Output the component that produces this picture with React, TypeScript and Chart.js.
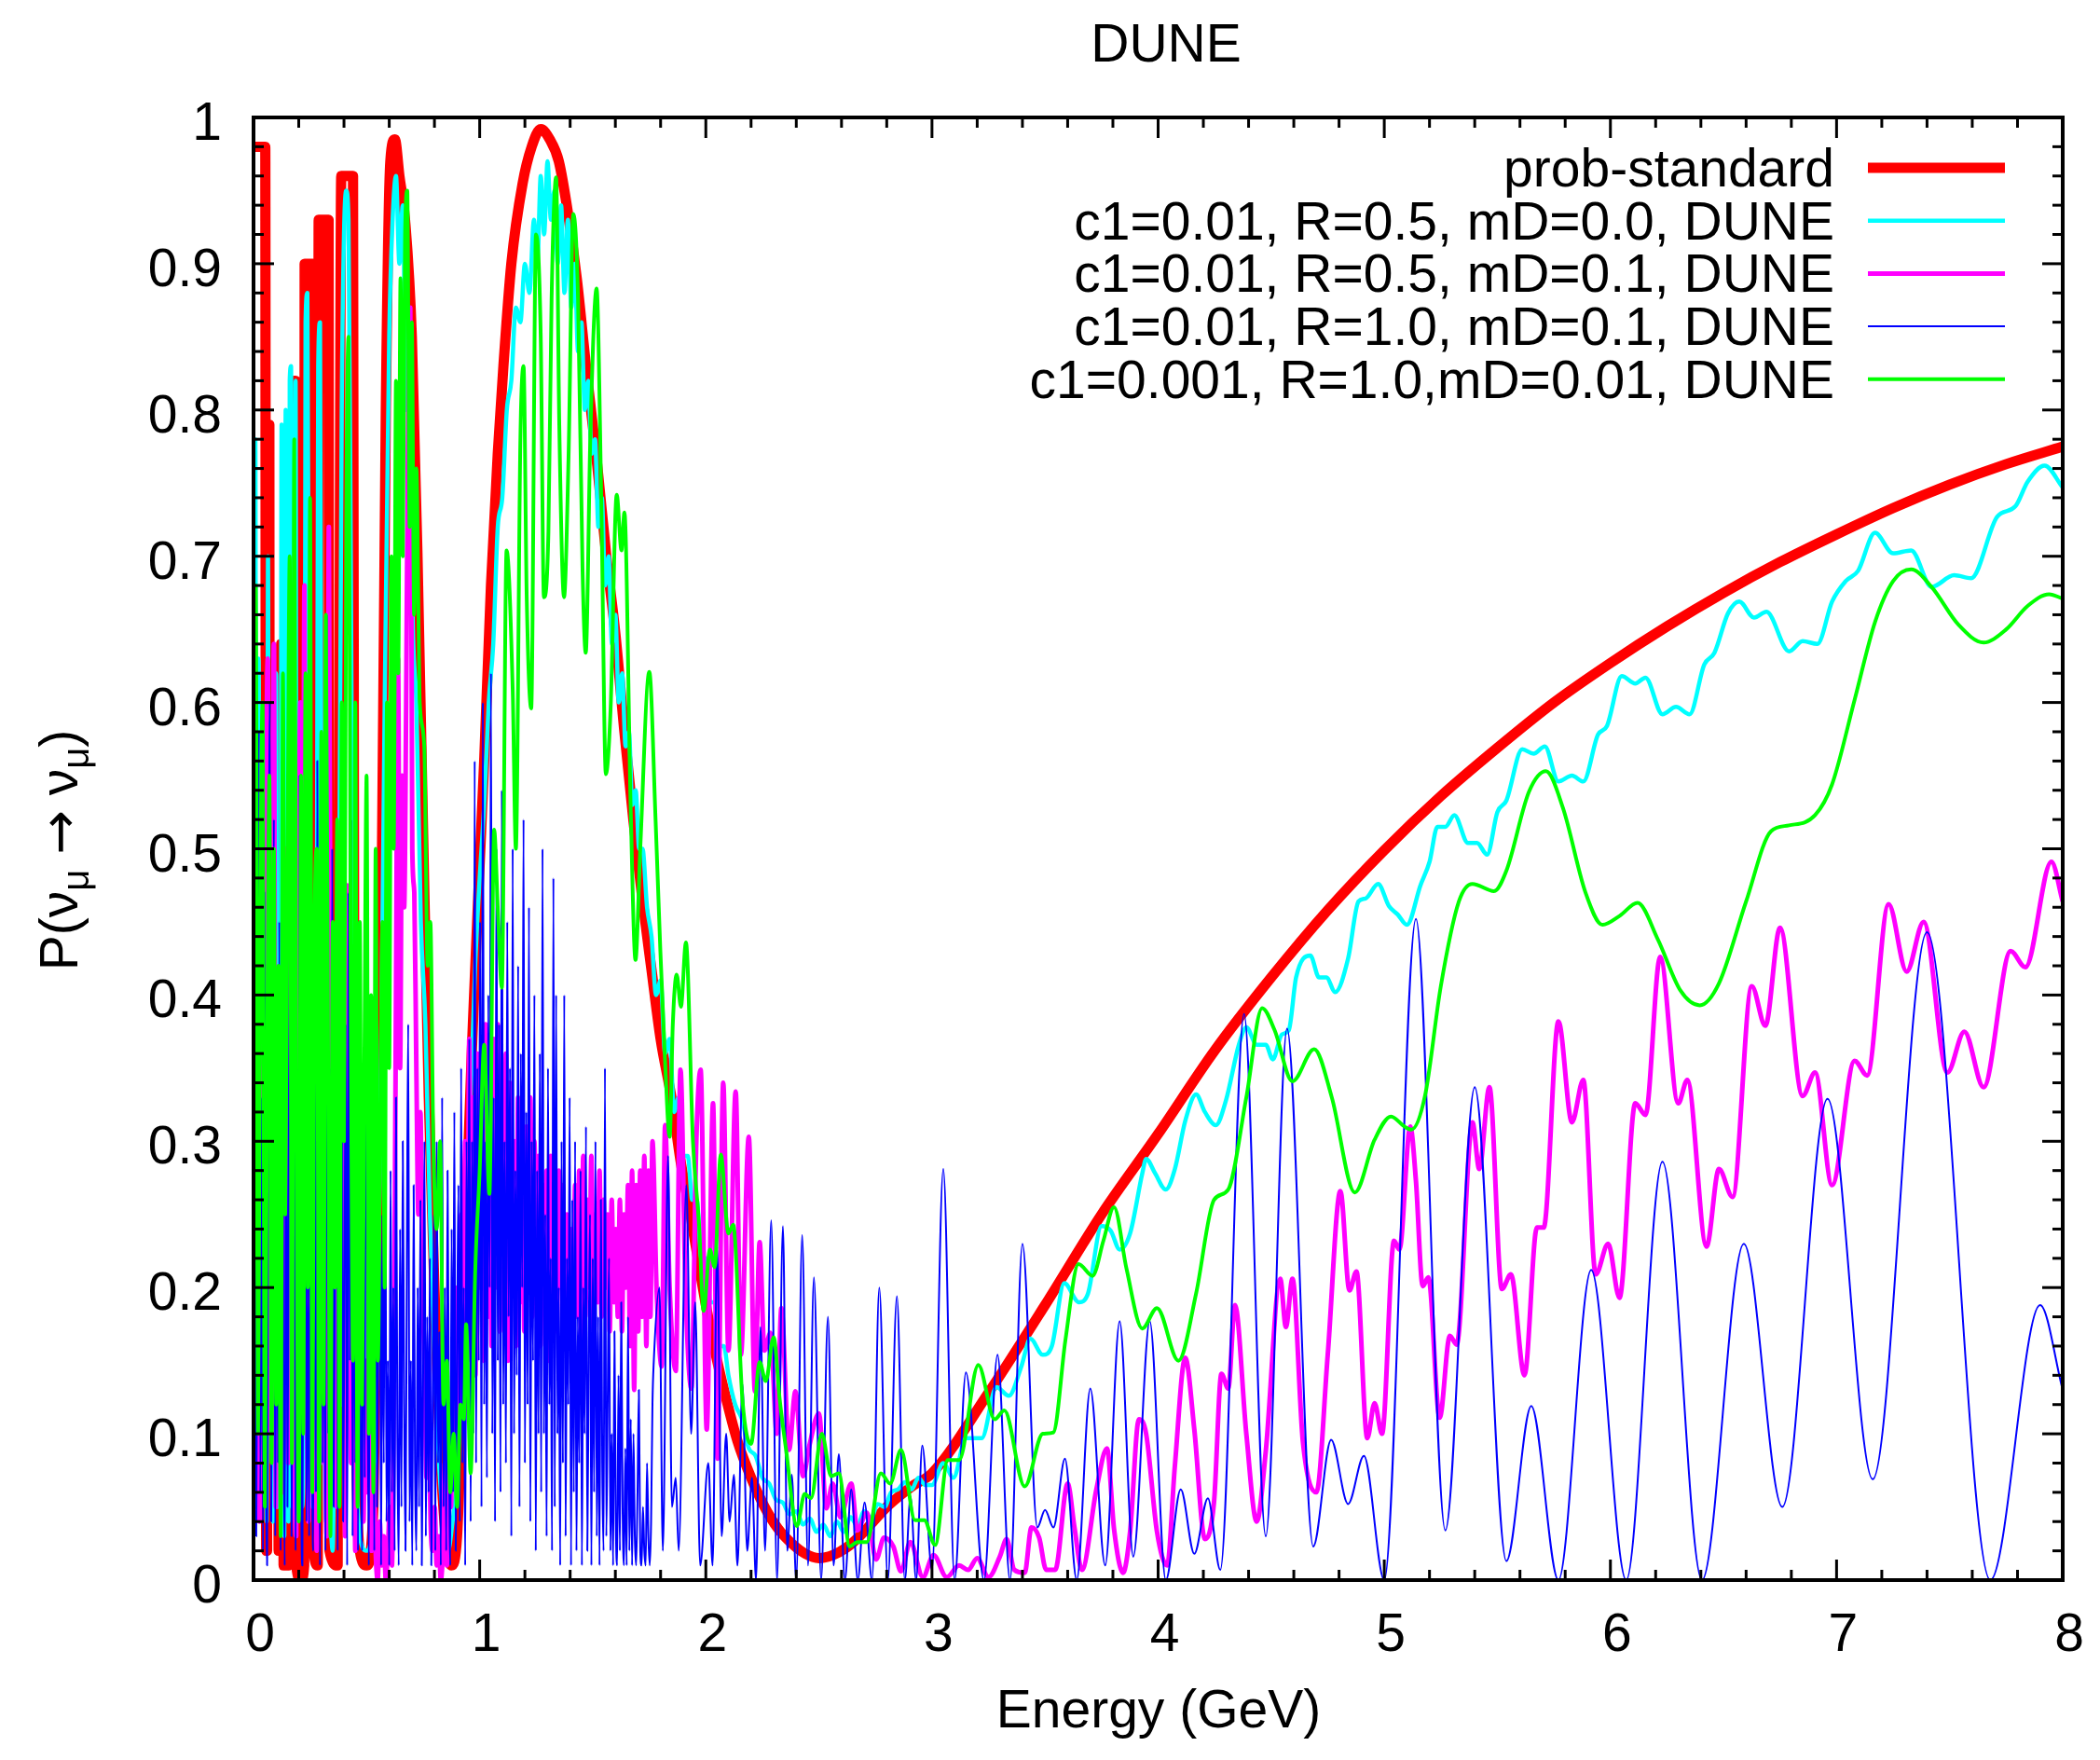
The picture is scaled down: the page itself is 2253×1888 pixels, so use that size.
import { useEffect, useRef } from 'react';
import { Chart, registerables } from 'chart.js';

Chart.register(...registerables);

const FONT = "'Liberation Sans', Arial, Helvetica, sans-serif";

const chartTitle = 'DUNE';
const xAxisTitle = 'Energy (GeV)';
const xTickValues = [0, 1, 2, 3, 4, 5, 6, 7, 8];
const xTickLabels = ['0', '1', '2', '3', '4', '5', '6', '7', '8'];
const yTickValues = [0, 0.1, 0.2, 0.3, 0.4, 0.5, 0.6, 0.7, 0.8, 0.9, 1];
const yTickLabels = ['0', '0.1', '0.2', '0.3', '0.4', '0.5', '0.6', '0.7', '0.8', '0.9', '1'];

const seriesLabels = [
  'prob-standard',
  'c1=0.01, R=0.5, mD=0.0, DUNE',
  'c1=0.01, R=0.5, mD=0.1, DUNE',
  'c1=0.01, R=1.0, mD=0.1, DUNE',
  'c1=0.001, R=1.0,mD=0.01, DUNE',
];
const seriesColors = ['#ff0000', '#00ffff', '#ff00ff', '#0000ff', '#00ff00'];
const seriesWidths = [11, 4.5, 5, 2, 4];

// prob-standard: [E (GeV), P]
const standardPoints: [number, number][] = [
  [0.0, 0.98], [0.052, 0.98], [0.056, 0.02], [0.06, 0.02], [0.062, 0.79], [0.07, 0.79], [0.072, 0.06], [0.094, 0.06],
  [0.096, 0.56], [0.108, 0.56], [0.111, 0.02], [0.12, 0.02], [0.122, 0.64], [0.13, 0.64], [0.133, 0.01], [0.138, 0.01],
  [0.14, 0.745], [0.148, 0.745], [0.15, 0.01], [0.155, 0.01], [0.157, 0.765], [0.164, 0.765], [0.167, 0.02], [0.176, 0.02],
  [0.178, 0.82], [0.186, 0.82], [0.189, 0.01], [0.21, 0.0], [0.224, 0.01], [0.226, 0.9], [0.262, 0.9], [0.266, 0.02],
  [0.284, 0.01], [0.288, 0.93], [0.332, 0.93], [0.336, 0.02], [0.372, 0.01], [0.376, 0.3], [0.388, 0.96], [0.44, 0.96],
  [0.446, 0.3], [0.47, 0.02], [0.5, 0.01], [0.53, 0.05], [0.56, 0.35], [0.585, 0.8], [0.605, 0.97], [0.625, 0.985],
  [0.645, 0.96], [0.67, 0.93], [0.7, 0.85], [0.725, 0.7], [0.75, 0.51], [0.775, 0.33], [0.8, 0.2], [0.825, 0.09],
  [0.85, 0.03], [0.875, 0.01], [0.9, 0.03], [0.92, 0.12], [0.94, 0.25], [0.97, 0.38], [1.0, 0.49], [1.02, 0.56],
  [1.05, 0.68], [1.08, 0.77], [1.105, 0.83], [1.14, 0.9], [1.19, 0.955], [1.23, 0.98], [1.27, 0.992], [1.31, 0.985],
  [1.35, 0.97], [1.39, 0.935], [1.43, 0.889], [1.47, 0.83], [1.52, 0.762], [1.56, 0.7], [1.6, 0.647], [1.64, 0.58],
  [1.68, 0.519], [1.72, 0.465], [1.76, 0.417], [1.8, 0.37], [1.85, 0.328], [1.89, 0.285], [1.93, 0.252], [1.97, 0.215],
  [2.01, 0.18], [2.05, 0.15], [2.09, 0.124], [2.14, 0.095], [2.2, 0.07], [2.26, 0.05], [2.32, 0.035], [2.38, 0.025],
  [2.44, 0.018], [2.5, 0.015], [2.56, 0.017], [2.62, 0.022], [2.68, 0.03], [2.74, 0.04], [2.8, 0.05], [2.86, 0.058],
  [2.92, 0.065], [3.0, 0.073], [3.25, 0.128], [3.5, 0.188], [3.75, 0.25], [4.0, 0.305], [4.25, 0.362], [4.5, 0.412],
  [4.75, 0.458], [5.0, 0.499], [5.25, 0.536], [5.5, 0.569], [5.75, 0.6], [6.0, 0.627], [6.25, 0.652], [6.5, 0.675],
  [6.75, 0.696], [7.0, 0.715], [7.25, 0.733], [7.5, 0.749], [7.75, 0.763], [8.0, 0.775],
];

// c1=0.01, R=0.5, mD=0.0
const cyanPoints: [number, number][] = [
  [0.0, 0.2], [0.008, 0.78], [0.014, 0.05], [0.022, 0.63], [0.03, 0.06], [0.036, 0.32], [0.042, 0.08], [0.05, 0.5],
  [0.058, 0.04], [0.064, 0.7], [0.07, 0.1], [0.078, 0.3], [0.086, 0.04], [0.094, 0.58], [0.1, 0.62], [0.106, 0.05],
  [0.112, 0.44], [0.118, 0.06], [0.124, 0.79], [0.13, 0.62], [0.136, 0.03], [0.142, 0.8], [0.148, 0.6], [0.154, 0.04],
  [0.16, 0.82], [0.166, 0.83], [0.172, 0.05], [0.18, 0.3], [0.186, 0.82], [0.192, 0.04], [0.2, 0.05], [0.208, 0.25],
  [0.214, 0.05], [0.222, 0.1], [0.23, 0.86], [0.238, 0.88], [0.246, 0.55], [0.254, 0.2], [0.262, 0.05], [0.27, 0.06],
  [0.278, 0.3], [0.286, 0.83], [0.294, 0.86], [0.3, 0.5], [0.31, 0.15], [0.32, 0.04], [0.33, 0.08], [0.338, 0.05],
  [0.35, 0.02], [0.36, 0.15], [0.37, 0.3], [0.38, 0.5], [0.39, 0.8], [0.4, 0.92], [0.41, 0.95], [0.42, 0.93],
  [0.43, 0.7], [0.44, 0.4], [0.45, 0.15], [0.47, 0.03], [0.5, 0.02], [0.53, 0.05], [0.56, 0.3], [0.58, 0.6],
  [0.6, 0.85], [0.615, 0.93], [0.63, 0.96], [0.645, 0.9], [0.66, 0.94], [0.675, 0.8], [0.69, 0.82], [0.705, 0.65],
  [0.72, 0.6], [0.74, 0.45], [0.76, 0.38], [0.78, 0.25], [0.8, 0.15], [0.82, 0.08], [0.84, 0.04], [0.86, 0.02],
  [0.88, 0.04], [0.9, 0.07], [0.92, 0.15], [0.94, 0.22], [0.96, 0.33], [0.98, 0.42], [1.0, 0.48], [1.02, 0.53],
  [1.04, 0.6], [1.06, 0.64], [1.08, 0.72], [1.1, 0.74], [1.12, 0.8], [1.14, 0.82], [1.16, 0.87], [1.18, 0.86],
  [1.2, 0.9], [1.22, 0.88], [1.24, 0.93], [1.255, 0.9], [1.27, 0.96], [1.285, 0.92], [1.3, 0.97], [1.315, 0.93],
  [1.33, 0.95], [1.345, 0.9], [1.36, 0.94], [1.375, 0.88], [1.39, 0.93], [1.405, 0.87], [1.42, 0.9], [1.435, 0.84],
  [1.45, 0.86], [1.465, 0.8], [1.48, 0.82], [1.495, 0.77], [1.51, 0.78], [1.525, 0.72], [1.54, 0.74], [1.555, 0.68],
  [1.57, 0.7], [1.585, 0.64], [1.6, 0.66], [1.615, 0.6], [1.63, 0.62], [1.645, 0.57], [1.66, 0.58], [1.675, 0.53],
  [1.69, 0.54], [1.705, 0.5], [1.72, 0.5], [1.74, 0.46], [1.76, 0.44], [1.78, 0.4], [1.8, 0.41], [1.82, 0.36],
  [1.84, 0.37], [1.86, 0.32], [1.88, 0.33], [1.9, 0.29], [1.92, 0.29], [1.94, 0.26], [1.96, 0.26], [1.98, 0.22],
  [2.0, 0.22], [2.02, 0.19], [2.04, 0.19], [2.06, 0.16], [2.08, 0.16], [2.1, 0.14], [2.13, 0.12], [2.16, 0.11],
  [2.19, 0.09], [2.22, 0.085], [2.25, 0.07], [2.28, 0.066], [2.31, 0.055], [2.34, 0.053], [2.37, 0.045], [2.4, 0.047],
  [2.43, 0.038], [2.46, 0.042], [2.49, 0.033], [2.52, 0.038], [2.55, 0.03], [2.58, 0.04], [2.61, 0.033], [2.64, 0.043],
  [2.67, 0.037], [2.7, 0.047], [2.73, 0.042], [2.76, 0.052], [2.79, 0.05], [2.82, 0.06], [2.85, 0.062], [2.88, 0.067],
  [2.91, 0.062], [2.94, 0.07], [2.97, 0.065], [3.0, 0.065], [3.05, 0.08], [3.095, 0.07], [3.15, 0.097], [3.22, 0.097],
  [3.285, 0.132], [3.34, 0.126], [3.395, 0.146], [3.435, 0.165], [3.49, 0.154], [3.53, 0.16], [3.585, 0.203], [3.65, 0.19],
  [3.69, 0.196], [3.75, 0.242], [3.79, 0.239], [3.83, 0.226], [3.876, 0.237], [3.93, 0.278], [3.947, 0.288], [3.987, 0.278],
  [4.034, 0.267], [4.074, 0.281], [4.12, 0.314], [4.168, 0.332], [4.207, 0.32], [4.255, 0.311], [4.3, 0.328], [4.357, 0.366],
  [4.39, 0.378], [4.436, 0.366], [4.476, 0.366], [4.507, 0.356], [4.547, 0.373], [4.578, 0.376], [4.61, 0.412], [4.673, 0.427],
  [4.712, 0.412], [4.744, 0.412], [4.783, 0.402], [4.84, 0.425], [4.886, 0.464], [4.917, 0.466], [4.973, 0.476], [5.02, 0.461],
  [5.06, 0.455], [5.1, 0.448], [5.16, 0.475], [5.2, 0.491], [5.235, 0.515], [5.27, 0.515], [5.31, 0.523], [5.37, 0.504],
  [5.41, 0.504], [5.455, 0.496], [5.5, 0.525], [5.54, 0.533], [5.61, 0.568], [5.66, 0.565], [5.71, 0.57], [5.77, 0.546],
  [5.83, 0.55], [5.88, 0.546], [5.945, 0.578], [5.985, 0.584], [6.05, 0.618], [6.11, 0.613], [6.155, 0.617], [6.23, 0.592],
  [6.29, 0.597], [6.35, 0.592], [6.415, 0.626], [6.46, 0.634], [6.52, 0.661], [6.57, 0.669], [6.635, 0.658], [6.69, 0.662],
  [6.79, 0.635], [6.85, 0.642], [6.915, 0.64], [6.98, 0.669], [7.04, 0.683], [7.095, 0.69], [7.17, 0.716], [7.25, 0.702],
  [7.33, 0.704], [7.42, 0.679], [7.52, 0.687], [7.595, 0.685], [7.71, 0.727], [7.79, 0.734], [7.845, 0.751], [7.92, 0.762],
  [8.0, 0.747],
];

// c1=0.01, R=0.5, mD=0.1 : fast part sampled from E=0 every 0.009 GeV, then read points
const magentaDenseStart = 0;
const magentaDenseStep = 0.009;
const magentaDense = [
  0.22, 0.08, 0.3, 0.04, 0.35, 0.12, 0.48, 0.63, 0.1, 0.3, 0.64, 0.05, 0.25, 0.4, 0.06, 0.18, 0.5, 0.08, 0.3, 0.55,
  0.1, 0.03, 0.4, 0.6, 0.15, 0.68, 0.2, 0.04, 0.32, 0.1, 0.45, 0.02, 0.25, 0.08, 0.5, 0.15, 0.03, 0.72, 0.3, 0.1,
  0.4, 0.05, 0.28, 0.12, 0.35, 0.03, 0.475, 0.2, 0.08, 0.3, 0.02, 0.22, 0.1, 0.26, 0.04, 0.15, 0.06, 0.2, 0.02, 0.08,
  0.02, 0.0, 0.04, 0.01, 0.03, 0.0, 0.02, 0.05, 0.01, 0.15, 0.4, 0.63, 0.35, 0.55, 0.46, 0.6, 0.8, 0.87, 0.5, 0.47,
  0.35, 0.25, 0.32, 0.2, 0.15, 0.07, 0.12, 0.04, 0.02, 0.05, 0.01, 0.03, 0.0, 0.02, 0.08, 0.01, 0.12, 0.05, 0.15, 0.08,
  0.2, 0.1, 0.25, 0.12, 0.3, 0.15, 0.37, 0.17, 0.33, 0.14, 0.36, 0.2, 0.3, 0.15, 0.38, 0.18, 0.34, 0.16, 0.37, 0.2,
  0.38, 0.17, 0.33, 0.19, 0.36, 0.15, 0.34, 0.2, 0.3, 0.16, 0.33, 0.19, 0.32, 0.17, 0.31, 0.2, 0.33, 0.18, 0.3, 0.21,
  0.29, 0.16, 0.27, 0.19, 0.28, 0.15, 0.29, 0.18, 0.26, 0.17, 0.28, 0.2, 0.27, 0.16, 0.25, 0.19, 0.24, 0.17, 0.27, 0.18,
  0.28, 0.16, 0.29, 0.18, 0.26, 0.2, 0.29, 0.17, 0.25, 0.19, 0.28, 0.18, 0.26, 0.2, 0.25, 0.17, 0.26, 0.19, 0.24, 0.18,
  0.26, 0.17, 0.25, 0.2, 0.27, 0.16, 0.28, 0.13, 0.27, 0.17, 0.28, 0.18, 0.29, 0.16, 0.28, 0.18, 0.3,
];
const magentaPoints: [number, number][] = [
  [1.782, 0.2], [1.805, 0.146], [1.82, 0.311], [1.84, 0.2], [1.867, 0.143], [1.888, 0.349], [1.91, 0.2], [1.936, 0.131],
  [1.958, 0.3], [1.977, 0.349], [2.004, 0.103], [2.032, 0.326], [2.052, 0.083], [2.077, 0.34], [2.1, 0.157], [2.132, 0.334],
  [2.155, 0.154], [2.19, 0.303], [2.217, 0.129], [2.238, 0.231], [2.259, 0.157], [2.286, 0.169], [2.314, 0.1], [2.334, 0.186],
  [2.368, 0.089], [2.396, 0.129], [2.43, 0.071], [2.458, 0.092], [2.5, 0.114], [2.533, 0.049], [2.561, 0.066], [2.595, 0.043],
  [2.643, 0.066], [2.67, 0.034], [2.712, 0.046], [2.753, 0.014], [2.788, 0.029], [2.829, 0.023], [2.863, 0.006], [2.904, 0.026],
  [2.96, 0.002], [3.007, 0.017], [3.065, 0.002], [3.12, 0.01], [3.16, 0.007], [3.2, 0.015], [3.25, 0.002], [3.3, 0.016],
  [3.33, 0.028], [3.364, 0.007], [3.41, 0.005], [3.44, 0.036], [3.474, 0.029], [3.505, 0.007], [3.545, 0.007], [3.6, 0.066],
  [3.63, 0.036], [3.663, 0.007], [3.727, 0.062], [3.774, 0.09], [3.805, 0.035], [3.845, 0.005], [3.876, 0.033], [3.915, 0.11],
  [3.947, 0.1], [3.995, 0.033], [4.04, 0.01], [4.074, 0.078], [4.12, 0.152], [4.16, 0.103], [4.207, 0.028], [4.247, 0.053],
  [4.28, 0.141], [4.31, 0.131], [4.34, 0.188], [4.39, 0.1], [4.436, 0.04], [4.476, 0.088], [4.54, 0.206], [4.565, 0.173],
  [4.594, 0.206], [4.64, 0.095], [4.7, 0.06], [4.75, 0.154], [4.806, 0.266], [4.846, 0.198], [4.877, 0.211], [4.925, 0.097],
  [4.957, 0.121], [4.99, 0.1], [5.043, 0.232], [5.067, 0.226], [5.115, 0.31], [5.14, 0.273], [5.17, 0.201], [5.195, 0.207],
  [5.245, 0.111], [5.29, 0.167], [5.32, 0.161], [5.39, 0.313], [5.42, 0.281], [5.465, 0.337], [5.52, 0.199], [5.56, 0.209],
  [5.62, 0.14], [5.675, 0.241], [5.705, 0.241], [5.77, 0.382], [5.83, 0.313], [5.88, 0.342], [5.935, 0.209], [5.99, 0.23],
  [6.04, 0.193], [6.11, 0.326], [6.155, 0.318], [6.22, 0.426], [6.3, 0.326], [6.34, 0.342], [6.425, 0.228], [6.48, 0.281],
  [6.54, 0.262], [6.625, 0.406], [6.685, 0.379], [6.75, 0.446], [6.85, 0.331], [6.905, 0.347], [6.98, 0.27], [7.08, 0.355],
  [7.135, 0.345], [7.23, 0.462], [7.31, 0.416], [7.385, 0.45], [7.49, 0.347], [7.565, 0.375], [7.65, 0.337], [7.77, 0.43],
  [7.835, 0.419], [7.95, 0.491], [8.0, 0.464],
];

// c1=0.01, R=1.0, mD=0.1 : fast part sampled from E=0 every 0.006 GeV, then read points
const blueDenseStart = 0;
const blueDenseStep = 0.006;
const blueDense = [
  0.05, 0.42, 0.03, 0.25, 0.58, 0.06, 0.33, 0.02, 0.47, 0.12, 0.01, 0.38, 0.6, 0.04, 0.22, 0.52, 0.03, 0.3, 0.08, 0.45,
  0.02, 0.56, 0.15, 0.01, 0.4, 0.05, 0.28, 0.5, 0.03, 0.18, 0.44, 0.02, 0.35, 0.06, 0.55, 0.1, 0.01, 0.3, 0.47, 0.04,
  0.2, 0.03, 0.5, 0.12, 0.02, 0.38, 0.06, 0.56, 0.22, 0.01, 0.45, 0.08, 0.3, 0.02, 0.66, 0.1, 0.35, 0.03, 0.5, 0.05,
  0.25, 0.44, 0.02, 0.3, 0.1, 0.5, 0.04, 0.2, 0.38, 0.01, 0.47, 0.15, 0.52, 0.03, 0.28, 0.08, 0.4, 0.02, 0.33, 0.1,
  0.02, 0.3, 0.07, 0.48, 0.15, 0.01, 0.35, 0.1, 0.22, 0.02, 0.4, 0.05, 0.18, 0.3, 0.01, 0.25, 0.08, 0.36, 0.04, 0.15,
  0.01, 0.28, 0.06, 0.2, 0.02, 0.33, 0.1, 0.01, 0.24, 0.05, 0.3, 0.12, 0.02, 0.22, 0.38, 0.04, 0.15, 0.01, 0.27, 0.08,
  0.02, 0.2, 0.05, 0.26, 0.01, 0.14, 0.3, 0.03, 0.18, 0.06, 0.22, 0.01, 0.12, 0.25, 0.02, 0.3, 0.08, 0.17, 0.01, 0.33,
  0.05, 0.2, 0.02, 0.28, 0.1, 0.01, 0.24, 0.06, 0.32, 0.02, 0.15, 0.27, 0.04, 0.35, 0.08, 0.2, 0.01, 0.3, 0.12, 0.37,
  0.04, 0.3, 0.1, 0.56, 0.08, 0.35, 0.15, 0.45, 0.05, 0.6, 0.12, 0.3, 0.07, 0.4, 0.2, 0.62, 0.1, 0.33, 0.04, 0.5,
  0.15, 0.38, 0.06, 0.54, 0.12, 0.3, 0.08, 0.45, 0.18, 0.35, 0.03, 0.5, 0.1, 0.28, 0.14, 0.42, 0.05, 0.36, 0.2, 0.52,
  0.08, 0.32, 0.12, 0.46, 0.04, 0.3, 0.15, 0.4, 0.02, 0.28, 0.1, 0.36, 0.06, 0.5, 0.1, 0.25, 0.03, 0.35, 0.12, 0.22,
  0.02, 0.48, 0.05, 0.4, 0.1, 0.2, 0.01, 0.3, 0.08, 0.4, 0.03, 0.22, 0.12, 0.33, 0.01, 0.26, 0.06, 0.3, 0.02, 0.18,
  0.08, 0.28, 0.01, 0.2, 0.1, 0.31, 0.02, 0.15, 0.25, 0.01, 0.22, 0.06, 0.3, 0.03, 0.18, 0.01, 0.26, 0.08, 0.02, 0.35,
  0.03, 0.12, 0.22, 0.02, 0.1, 0.01, 0.17, 0.04, 0.01, 0.14, 0.02, 0.19, 0.05, 0.01, 0.09, 0.01, 0.18, 0.02, 0.11, 0.01,
  0.1, 0.03, 0.01, 0.06, 0.13, 0.02, 0.01, 0.05, 0.02, 0.01, 0.08, 0.03, 0.01, 0.04, 0.12, 0.15,
];
const bluePoints: [number, number][] = [
  [1.795, 0.2], [1.81, 0.02], [1.833, 0.29], [1.85, 0.05], [1.867, 0.07], [1.88, 0.02], [1.914, 0.27], [1.935, 0.1],
  [1.953, 0.19], [1.975, 0.01], [2.011, 0.08], [2.03, 0.01], [2.05, 0.228], [2.07, 0.03], [2.09, 0.1], [2.105, 0.04],
  [2.124, 0.072], [2.14, 0.01], [2.162, 0.134], [2.183, 0.02], [2.204, 0.07], [2.222, 0.0], [2.242, 0.173], [2.262, 0.02],
  [2.289, 0.246], [2.315, 0.0], [2.341, 0.242], [2.36, 0.02], [2.38, 0.072], [2.4, 0.0], [2.426, 0.236], [2.452, 0.01],
  [2.478, 0.207], [2.51, 0.0], [2.54, 0.18], [2.565, 0.01], [2.588, 0.086], [2.615, 0.0], [2.643, 0.062], [2.672, 0.0],
  [2.702, 0.053], [2.735, 0.0], [2.767, 0.2], [2.805, 0.0], [2.845, 0.194], [2.88, 0.0], [2.905, 0.057], [2.93, 0.0],
  [2.957, 0.092], [3.0, 0.007], [3.05, 0.281], [3.1, 0.0], [3.15, 0.142], [3.23, 0.0], [3.29, 0.154], [3.345, 0.0],
  [3.4, 0.23], [3.466, 0.036], [3.5, 0.048], [3.537, 0.036], [3.588, 0.083], [3.64, 0.0], [3.7, 0.131], [3.766, 0.01],
  [3.83, 0.177], [3.89, 0.016], [3.963, 0.177], [4.034, 0.0], [4.1, 0.062], [4.16, 0.018], [4.22, 0.056], [4.275, 0.007],
  [4.38, 0.387], [4.476, 0.03], [4.57, 0.377], [4.686, 0.023], [4.765, 0.096], [4.84, 0.052], [4.91, 0.085], [5.0, 0.0],
  [5.14, 0.452], [5.27, 0.034], [5.4, 0.337], [5.54, 0.013], [5.65, 0.119], [5.77, 0.0], [5.915, 0.212], [6.07, 0.0],
  [6.23, 0.286], [6.405, 0.0], [6.59, 0.23], [6.76, 0.05], [6.96, 0.329], [7.16, 0.069], [7.4, 0.443], [7.68, 0.0],
  [7.9, 0.188], [8.0, 0.13],
];

// c1=0.001, R=1.0, mD=0.01 : fast part sampled from E=0 every 0.01 GeV, then read points
const greenDenseStart = 0;
const greenDenseStep = 0.01;
const greenDense = [
  0.2, 0.68, 0.1, 0.45, 0.6, 0.05, 0.35, 0.55, 0.08, 0.5, 0.12, 0.42, 0.03, 0.62, 0.25, 0.48, 0.7, 0.08, 0.78, 0.3,
  0.04, 0.55, 0.1, 0.62, 0.2, 0.74, 0.06, 0.45, 0.5, 0.04, 0.58, 0.12, 0.66, 0.35, 0.03, 0.45, 0.2, 0.52, 0.05, 0.6,
  0.3, 0.72, 0.85, 0.4, 0.15, 0.6, 0.05, 0.45, 0.12, 0.35, 0.55, 0.1, 0.4, 0.06, 0.5, 0.15, 0.3,
];
const greenPoints: [number, number][] = [
  [0.57, 0.45], [0.58, 0.2], [0.59, 0.6], [0.6, 0.35], [0.61, 0.7], [0.62, 0.5], [0.63, 0.82], [0.64, 0.62],
  [0.65, 0.89], [0.66, 0.7], [0.67, 0.92], [0.68, 0.95], [0.69, 0.72], [0.7, 0.86], [0.71, 0.66], [0.72, 0.76],
  [0.735, 0.6], [0.755, 0.57], [0.77, 0.42], [0.782, 0.45], [0.795, 0.3], [0.81, 0.24], [0.825, 0.3], [0.84, 0.12],
  [0.855, 0.15], [0.87, 0.06], [0.885, 0.1], [0.9, 0.05], [0.915, 0.12], [0.93, 0.11], [0.94, 0.175], [0.96, 0.073],
  [0.98, 0.21], [1.0, 0.28], [1.02, 0.366], [1.043, 0.264], [1.064, 0.513], [1.08, 0.46], [1.098, 0.405], [1.119, 0.704],
  [1.146, 0.609], [1.16, 0.5], [1.18, 0.78], [1.194, 0.83], [1.208, 0.672], [1.228, 0.596], [1.249, 0.92], [1.27, 0.85],
  [1.284, 0.672], [1.304, 0.717], [1.318, 0.876], [1.338, 0.959], [1.352, 0.79], [1.373, 0.672], [1.393, 0.768], [1.414, 0.934],
  [1.435, 0.876], [1.455, 0.69], [1.469, 0.634], [1.49, 0.787], [1.517, 0.883], [1.538, 0.736], [1.558, 0.551], [1.579, 0.596],
  [1.606, 0.742], [1.627, 0.704], [1.64, 0.73], [1.668, 0.526], [1.689, 0.424], [1.71, 0.5], [1.75, 0.621], [1.778, 0.519],
  [1.799, 0.43], [1.82, 0.354], [1.84, 0.303], [1.854, 0.38], [1.871, 0.414], [1.89, 0.392], [1.912, 0.436], [1.943, 0.3],
  [1.97, 0.243], [1.99, 0.184], [2.018, 0.226], [2.039, 0.214], [2.066, 0.291], [2.1, 0.237], [2.121, 0.243], [2.162, 0.123],
  [2.2, 0.093], [2.238, 0.149], [2.265, 0.136], [2.3, 0.166], [2.327, 0.123], [2.355, 0.089], [2.403, 0.037], [2.437, 0.059],
  [2.465, 0.056], [2.513, 0.1], [2.554, 0.071], [2.588, 0.073], [2.636, 0.023], [2.67, 0.026], [2.712, 0.026], [2.774, 0.073],
  [2.815, 0.066], [2.863, 0.089], [2.925, 0.041], [2.966, 0.041], [3.014, 0.024], [3.07, 0.082], [3.12, 0.082], [3.205, 0.147],
  [3.277, 0.11], [3.32, 0.116], [3.41, 0.064], [3.49, 0.1], [3.537, 0.101], [3.59, 0.164], [3.648, 0.216], [3.71, 0.208],
  [3.758, 0.232], [3.805, 0.255], [3.86, 0.213], [3.93, 0.172], [3.995, 0.186], [4.09, 0.15], [4.168, 0.196], [4.247, 0.26],
  [4.31, 0.267], [4.39, 0.33], [4.46, 0.391], [4.515, 0.376], [4.594, 0.341], [4.69, 0.363], [4.768, 0.33], [4.87, 0.265],
  [4.957, 0.301], [5.03, 0.317], [5.09, 0.31], [5.12, 0.308], [5.18, 0.331], [5.25, 0.406], [5.33, 0.464], [5.39, 0.476],
  [5.485, 0.471], [5.54, 0.485], [5.64, 0.539], [5.715, 0.553], [5.79, 0.528], [5.89, 0.47], [5.965, 0.448], [6.04, 0.454],
  [6.12, 0.463], [6.21, 0.438], [6.31, 0.403], [6.395, 0.393], [6.48, 0.408], [6.6, 0.464], [6.71, 0.512], [6.79, 0.516],
  [6.905, 0.523], [6.98, 0.544], [7.08, 0.602], [7.17, 0.655], [7.25, 0.683], [7.33, 0.691], [7.42, 0.679], [7.54, 0.653],
  [7.65, 0.641], [7.75, 0.65], [7.845, 0.666], [7.94, 0.674], [8.0, 0.671],
];

type Pt = { x: number; y: number };
const fromPairs = (pairs: [number, number][]): Pt[] => pairs.map(([x, y]) => ({ x, y }));
const fromSamples = (start: number, step: number, vals: number[]): Pt[] =>
  vals.map((y, i) => ({ x: Math.round((start + i * step) * 10000) / 10000, y }));

const W = 2253;
const H = 1888;
const FS = 57;

const decorPlugin = {
  id: 'decor',
  beforeDraw(chart: any) {
    const { ctx } = chart;
    ctx.save();
    ctx.fillStyle = '#ffffff';
    ctx.fillRect(0, 0, W, H);
    ctx.restore();
  },
  afterDatasetsDraw(chart: any) {
    const { ctx, chartArea: a } = chart;
    const xs = chart.scales.x;
    const ys = chart.scales.y;
    ctx.save();
    ctx.strokeStyle = '#000';
    ctx.lineCap = 'butt';
    ctx.lineWidth = 3;
    const seg = (x1: number, y1: number, x2: number, y2: number) => {
      ctx.beginPath();
      ctx.moveTo(x1, y1);
      ctx.lineTo(x2, y2);
      ctx.stroke();
    };
    for (let k = 0; k <= 40; k++) {
      const px = xs.getPixelForValue(k * 0.2);
      const len = k % 5 === 0 ? 22 : 11;
      seg(px, a.bottom, px, a.bottom - len);
      seg(px, a.top, px, a.top + len);
    }
    for (let k = 0; k <= 50; k++) {
      const py = ys.getPixelForValue(k * 0.02);
      const len = k % 5 === 0 ? 22 : 11;
      seg(a.left, py, a.left + len, py);
      seg(a.right, py, a.right - len, py);
    }
    ctx.lineWidth = 4;
    ctx.strokeRect(a.left, a.top, a.right - a.left, a.bottom - a.top);

    const mainFont = `${FS}px ${FONT}`;
    // tick labels
    ctx.fillStyle = '#000';
    ctx.font = mainFont;
    ctx.textBaseline = 'alphabetic';
    ctx.textAlign = 'center';
    xTickValues.forEach((v, i) => {
      ctx.fillText(xTickLabels[i], xs.getPixelForValue(v) + 7, 1771);
    });
    ctx.textAlign = 'right';
    yTickValues.forEach((v, i) => {
      ctx.fillText(yTickLabels[i], a.left - 34, ys.getPixelForValue(v) + 24);
    });

    // title and x axis title
    ctx.textAlign = 'center';
    ctx.fillText(chartTitle, 1251, 66);
    ctx.fillText(xAxisTitle, 1243, 1853);

    // y axis title with subscripts
    const subFont = `40px ${FONT}`;
    const arrowFont = `${FS}px 'DejaVu Sans', ${FONT}`;
    const parts: [string, string, number][] = [
      ['P(\u03BD', mainFont, 0],
      ['\u03BC', subFont, 12],
      [' ', mainFont, 0],
      ['\u2192', arrowFont, 0],
      [' \u03BD', mainFont, 0],
      ['\u03BC', subFont, 12],
      [')', mainFont, 0],
    ];
    let total = 0;
    const widths = parts.map(([t, f]) => {
      ctx.font = f;
      const w = ctx.measureText(t).width;
      total += w;
      return w;
    });
    ctx.save();
    ctx.translate(83, 912);
    ctx.rotate(-Math.PI / 2);
    ctx.textAlign = 'left';
    let cx = -total / 2;
    parts.forEach(([t, f, dy], i) => {
      ctx.font = f;
      ctx.fillText(t, cx, dy);
      cx += widths[i];
    });
    ctx.restore();

    // legend
    ctx.font = mainFont;
    ctx.textAlign = 'right';
    seriesLabels.forEach((label, i) => {
      const yLine = 180 + i * 56.7;
      ctx.fillStyle = '#000';
      ctx.fillText(label, 1968, yLine + 20);
      ctx.strokeStyle = seriesColors[i];
      ctx.lineWidth = seriesWidths[i];
      seg(2004, yLine, 2151, yLine);
    });
    ctx.restore();
  },
};

export default function App() {
  const ref = useRef<HTMLCanvasElement | null>(null);

  useEffect(() => {
    if (!ref.current) return;
    const seriesData: Pt[][] = [
      fromPairs(standardPoints),
      fromPairs(cyanPoints),
      fromSamples(magentaDenseStart, magentaDenseStep, magentaDense).concat(fromPairs(magentaPoints)),
      fromSamples(blueDenseStart, blueDenseStep, blueDense).concat(fromPairs(bluePoints)),
      fromSamples(greenDenseStart, greenDenseStep, greenDense).concat(fromPairs(greenPoints)),
    ];
    const datasets = seriesData.map((data, i) => ({
      label: seriesLabels[i],
      data,
      borderColor: seriesColors[i],
      backgroundColor: seriesColors[i],
      borderWidth: seriesWidths[i],
      pointRadius: 0,
      fill: false,
      cubicInterpolationMode: 'monotone' as const,
      borderJoinStyle: 'round' as const,
      order: 5 - i,
      clip: 0,
    }));
    const chart = new Chart(ref.current, {
      type: 'line',
      data: { datasets },
      plugins: [decorPlugin],
      options: {
        animation: false,
        responsive: false,
        devicePixelRatio: 1,
        parsing: false,
        events: [],
        layout: { padding: { top: 126, right: 40, left: 0, bottom: 0 } },
        plugins: {
          legend: { display: false },
          title: { display: false },
          tooltip: { enabled: false },
        },
        scales: {
          x: {
            type: 'linear',
            min: 0,
            max: 8,
            ticks: { display: false },
            grid: { display: false, drawTicks: false },
            border: { display: false },
            afterFit: (s: any) => {
              s.height = 193;
            },
          },
          y: {
            type: 'linear',
            min: 0,
            max: 1,
            ticks: { display: false },
            grid: { display: false, drawTicks: false },
            border: { display: false },
            afterFit: (s: any) => {
              s.width = 272;
            },
          },
        },
      } as any,
    });
    return () => chart.destroy();
  }, []);

  return (
    <div style={{ position: 'absolute', left: 0, top: 0, width: W, height: H, background: '#fff' }}>
      <canvas ref={ref} width={W} height={H} style={{ display: 'block', width: W, height: H }} />
    </div>
  );
}
